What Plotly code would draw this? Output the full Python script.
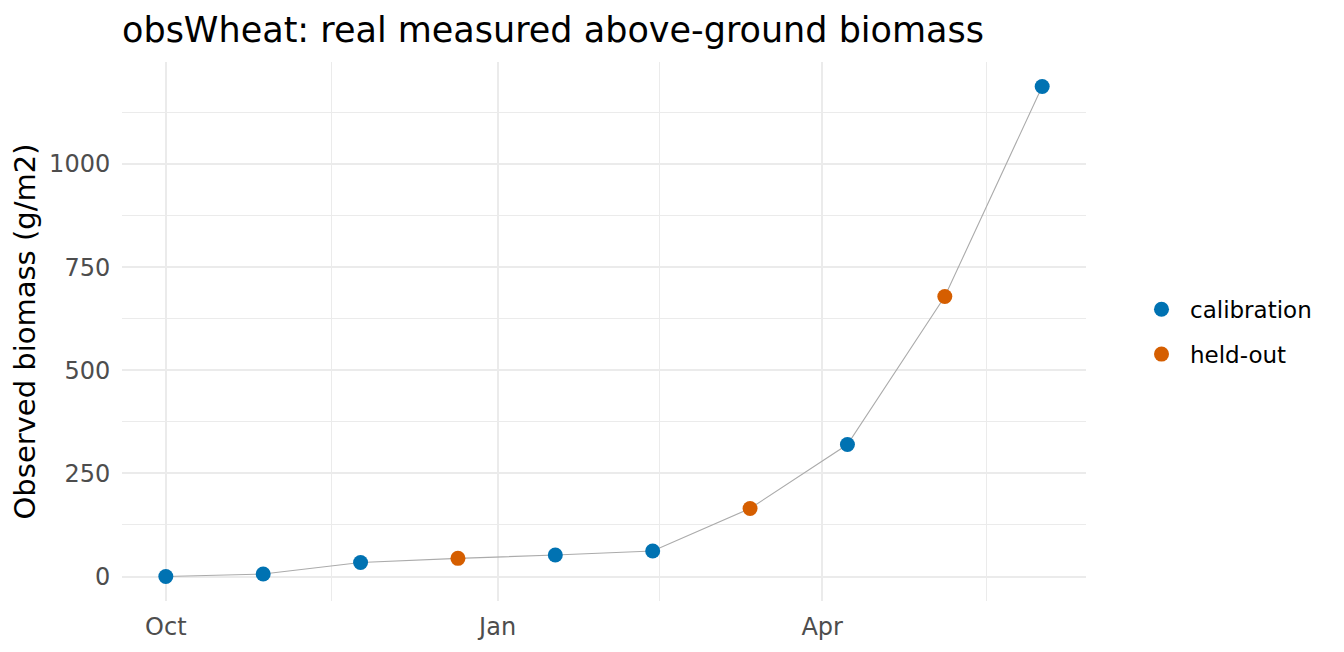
import plotly.graph_objects as go

dates = ["2022-10-01", "2022-10-28", "2022-11-24", "2022-12-21", "2023-01-17",
         "2023-02-13", "2023-03-12", "2023-04-08", "2023-05-05", "2023-06-01"]
biomass = [0, 6, 34, 44, 52, 62, 165, 320, 679, 1188]
role = ["calibration", "calibration", "calibration", "held-out", "calibration",
        "calibration", "held-out", "calibration", "held-out", "calibration"]

x_tick_vals = ["2022-10-01", "2023-01-01", "2023-04-01"]
x_tick_text = ["Oct", "Jan", "Apr"]
x_minor_vals = ["2022-11-16", "2023-02-15", "2023-05-16 12:00"]
y_tick_vals = [0, 250, 500, 750, 1000]
y_tick_text = ["0", "250", "500", "750", "1000"]

colors = {"calibration": "#0072B2", "held-out": "#D55E00"}
FONT = "DejaVu Sans"

fig = go.Figure()
fig.add_trace(go.Scatter(x=dates, y=biomass, mode="lines",
                         line=dict(color="#ABABAB", width=1.1),
                         showlegend=False, hoverinfo="skip"))
for grp in ["calibration", "held-out"]:
    xs = [d for d, r in zip(dates, role) if r == grp]
    ys = [v for v, r in zip(biomass, role) if r == grp]
    fig.add_trace(go.Scatter(x=xs, y=ys, mode="markers", name=grp, legendgroup=grp,
                             marker=dict(color=colors[grp], size=15, line=dict(width=0))))

W, H = 1344, 652
L, R, T, B = 122, 1086, 62, 601.5

fig.update_layout(
    width=W, height=H,
    margin=dict(l=L, r=W - R, t=T, b=H - B, autoexpand=False),
    paper_bgcolor="white", plot_bgcolor="white",
    font=dict(family=FONT, color="black"),
    title=dict(text="obsWheat: real measured above-ground biomass",
               font=dict(size=35, color="black", family=FONT),
               x=L / W, xanchor="left", xref="container",
               y=1 - 30 / H, yanchor="middle", yref="container"),
    legend=dict(x=(1133 - L) / (R - L), y=(B - 332) / (B - T),
                xanchor="left", yanchor="middle",
                font=dict(size=23, color="black", family=FONT),
                itemwidth=47, tracegroupgap=12,
                bgcolor="rgba(0,0,0,0)"),
    showlegend=True,
)
fig.update_xaxes(
    type="date", range=["2022-09-18 20:24", "2023-06-13 03:36"], autorange=False,
    automargin=False,
    tickmode="array", tickvals=x_tick_vals, ticktext=x_tick_text,
    tickfont=dict(size=24, color="#4D4D4D", family=FONT),
    ticks="outside", ticklen=4, tickcolor="rgba(0,0,0,0)",
    showgrid=True, gridcolor="#EBEBEB", gridwidth=2,
    minor=dict(tickmode="array", tickvals=x_minor_vals, showgrid=True,
               gridcolor="#EBEBEB", gridwidth=1, ticks=""),
    showline=False, zeroline=False,
)
fig.update_yaxes(
    range=[-59.4, 1247.4], autorange=False,
    automargin=False,
    tickmode="array", tickvals=y_tick_vals, ticktext=y_tick_text,
    tickfont=dict(size=24, color="#4D4D4D", family=FONT),
    ticks="outside", ticklen=6, tickcolor="rgba(0,0,0,0)",
    showgrid=True, gridcolor="#EBEBEB", gridwidth=2,
    minor=dict(tickmode="linear", tick0=125, dtick=250, showgrid=True,
               gridcolor="#EBEBEB", gridwidth=1, ticks=""),
    title=dict(text="Observed biomass (g/m2)", font=dict(size=29, color="black", family=FONT),
               standoff=4),
    showline=False, zeroline=False,
)

fig.write_html("out.html")
